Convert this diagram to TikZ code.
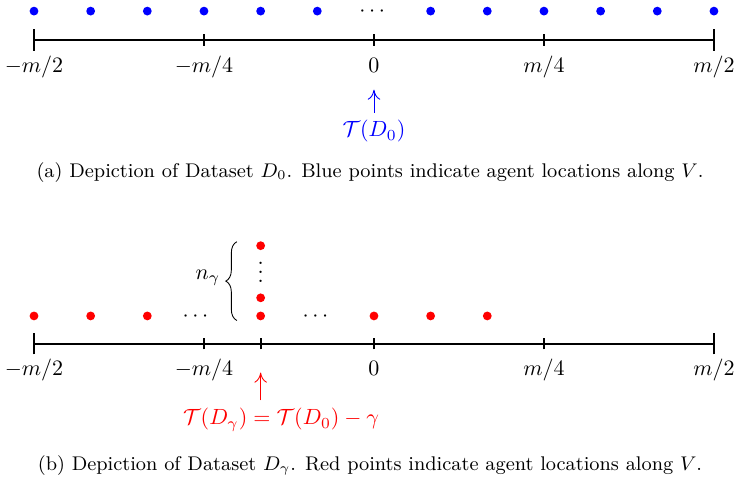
\documentclass[tikz,border=0pt]{standalone}
\usepackage{amsmath,amssymb}
\usepackage{xcolor}
\usetikzlibrary{arrows.meta,positioning,decorations.pathreplacing,calc}

\begin{document}
\begin{tikzpicture}[x=0.905cm,y=0.905cm,bdot/.style={circle,fill=blue,inner sep=0pt,minimum size=4pt},rdot/.style={circle,fill=red,inner sep=0pt,minimum size=4pt},lab/.style={anchor=base},ell/.style={anchor=base,inner sep=0pt},axis/.style={thick},arr/.style={-{To[length=1.6mm,width=2mm]}}]
\useasboundingbox (-6.6,0.706) rectangle (6.46,-7.82);
% (a) dataset D_0
\draw[axis] (-6,0)--(6,0);
\draw[axis] (-6,-0.19)--(-6,0.19);\draw[axis] (6,-0.19)--(6,0.19);
\draw[axis] (-3,-0.1)--(-3,0.1);\draw[axis] (0,-0.1)--(0,0.1);\draw[axis] (3,-0.1)--(3,0.1);
\node[bdot] (b1) at (-6,0.51) {};\node[bdot] (b2) at (-5,0.51) {};\node[bdot] (b3) at (-4,0.51) {};
\node[bdot] (b4) at (-3,0.51) {};\node[bdot] (b5) at (-2,0.51) {};\node[bdot] (b6) at (-1,0.51) {};
\node[ell] (bdots) at (0,0.415) {$\cdots$};
\node[bdot] (b7) at (1,0.51) {};\node[bdot] (b8) at (2,0.51) {};\node[bdot] (b9) at (3,0.51) {};
\node[bdot] (b10) at (4,0.51) {};\node[bdot] (b11) at (5,0.51) {};\node[bdot] (b12) at (6,0.51) {};
\node[lab] (la1) at (-6,-0.565) {$-m/2$};
\node[lab] (la2) at (-3,-0.565) {$-m/4$};
\node[lab] (la3) at (0,-0.565) {$0$};
\node[lab] (la4) at (3,-0.565) {$m/4$};
\node[lab] (la5) at (6,-0.565) {$m/2$};
\node[lab,blue] (tzero) at (0,-1.71) {$\mathcal{T}(D_0)$};
\draw[arr,blue,shorten >=4.5pt] (tzero)--(la3);
\node[lab,font=\small] (capa) at (-0.07,-2.42) {(a) Depiction of Dataset $D_0$. Blue points indicate agent locations along $V$.};
% (b) dataset D_gamma
\draw[axis] (-6,-5.36)--(6,-5.36);
\draw[axis] (-6,-5.55)--(-6,-5.17);\draw[axis] (6,-5.55)--(6,-5.17);
\draw[axis] (-3,-5.46)--(-3,-5.26);\draw[axis] (-2,-5.46)--(-2,-5.26);
\draw[axis] (0,-5.46)--(0,-5.26);\draw[axis] (3,-5.46)--(3,-5.26);
\node[rdot] (r1) at (-6,-4.87) {};\node[rdot] (r2) at (-5,-4.87) {};\node[rdot] (r3) at (-4,-4.87) {};
\node[ell] (rdotsl) at (-3.12,-4.96) {$\cdots$};
\node[rdot] (r4) at (-2,-4.87) {};\node[rdot] (r5) at (-2,-4.55) {};
\node[ell] (rvdots) at (-2,-4.28) {$\smash{\vdots}$};
\node[rdot] (r6) at (-2,-3.63) {};
\node[ell] (rdotsr) at (-1,-4.96) {$\cdots$};
\node[rdot] (r7) at (0,-4.87) {};\node[rdot] (r8) at (1,-4.87) {};\node[rdot] (r9) at (2,-4.87) {};
\coordinate (brlo) at (-2.42,-4.95);\coordinate (brhi) at (-2.42,-3.56);
\draw[decorate,decoration={brace,amplitude=5pt}] (brlo)--(brhi);
\node (ngam) at (-2.93,-4.2) {$n_\gamma$};
\node[lab] (lb1) at (-6,-5.925) {$-m/2$};
\node[lab] (lb2) at (-3,-5.925) {$-m/4$};
\node[lab] (lb3) at (0,-5.925) {$0$};
\node[lab] (lb4) at (3,-5.925) {$m/4$};
\node[lab] (lb5) at (6,-5.925) {$m/2$};
\coordinate (gam) at (-2,-5.87);
\node[lab,red] (tgam) at (-1.64,-6.79) {$\mathcal{T}(D_\gamma)=\mathcal{T}(D_0)-\gamma$};
\draw[arr,red] (tgam.north -| gam)--(gam);
\node[lab,font=\small] (capb) at (-0.07,-7.59) {(b) Depiction of Dataset $D_\gamma$. Red points indicate agent locations along $V$.};
\end{tikzpicture}
\end{document}
